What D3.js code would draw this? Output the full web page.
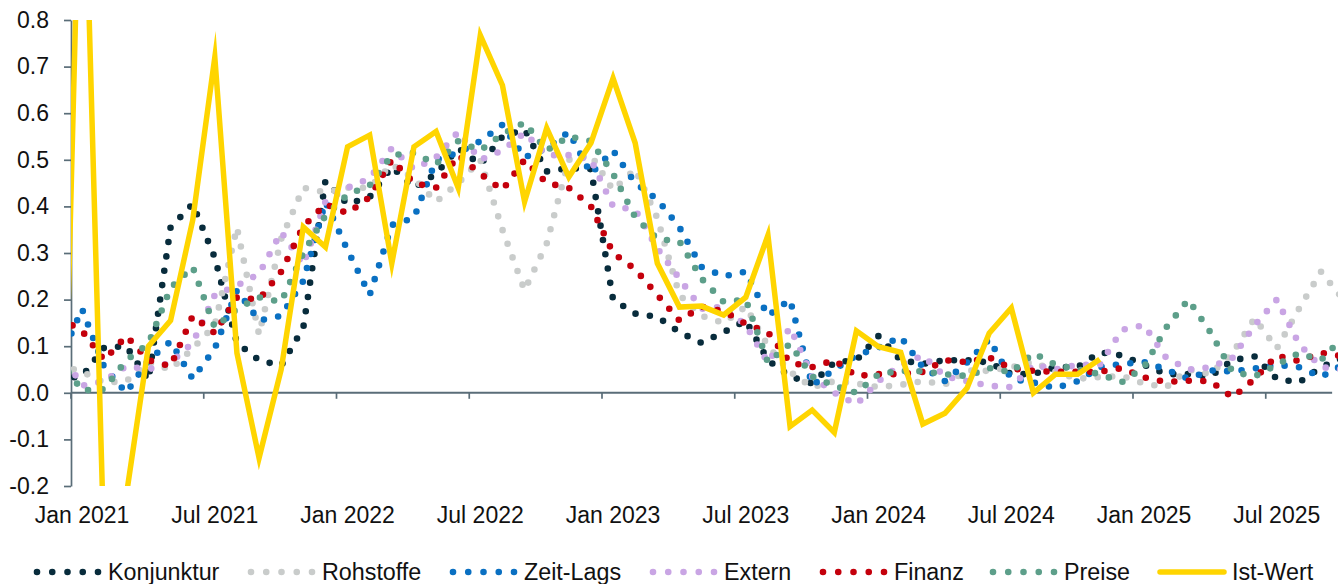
<!DOCTYPE html>
<html>
<head>
<meta charset="utf-8">
<script src="https://cdn.jsdelivr.net/npm/d3@7"></script>
<style>
  body { margin: 0; background: #fff; }
  svg { display: block; font-family: "Liberation Sans", Arial, sans-serif; }
</style>
</head>
<body>
<div id="chart"></div>
<script>
// monthly values, Dec 2020 .. Oct 2025
const months = d3.timeMonth.range(new Date(2020, 11, 1), new Date(2025, 10, 1));

const konjunktur = [0.03,
  0.035, 0.097, 0.10, 0.027, 0.355, 0.405, 0.29, 0.107, 0.07, 0.058, 0.14, 0.455,
  0.405, 0.42, 0.485, 0.44, 0.47, 0.525, 0.49, 0.55, 0.565, 0.475, 0.482, 0.48,
  0.20, 0.17, 0.163, 0.13, 0.107, 0.13, 0.155, 0.07, 0.035, 0.02, 0.065, 0.07,
  0.122, 0.07, 0.062, 0.07, 0.07, 0.065, 0.04, 0.04, 0.055, 0.055, 0.087, 0.08,
  0.06, 0.04, 0.04, 0.035, 0.07, 0.078, 0.03, 0.022, 0.055, 0.075];

const rohstoffe = [0.06,
  0.045, 0.022, 0.025, 0.065, 0.05, 0.095, 0.145, 0.355, 0.125, 0.33, 0.44, 0.43,
  0.44, 0.44, 0.49, 0.46, 0.41, 0.45, 0.50, 0.35, 0.22, 0.32, 0.50, 0.51,
  0.435, 0.48, 0.375, 0.21, 0.165, 0.15, 0.185, 0.10, 0.045, 0.012, 0.025, 0.02,
  0.012, 0.017, 0.025, 0.018, 0.048, 0.047, 0.055, 0.066, 0.045, 0.03, 0.034, 0.036,
  0.02, 0.012, 0.05, 0.04, 0.085, 0.16, 0.095, 0.18, 0.26, 0.20];

const zeitLags = [0.07,
  0.18, 0.055, 0.0, 0.07, 0.11, 0.03, 0.095, 0.22, 0.155, 0.165, 0.24, 0.41,
  0.306, 0.21, 0.36, 0.375, 0.50, 0.515, 0.54, 0.575, 0.505, 0.525, 0.56, 0.47,
  0.52, 0.45, 0.415, 0.355, 0.27, 0.25, 0.26, 0.165, 0.20, 0.016, 0.05, 0.08,
  0.097, 0.12, 0.055, 0.025, 0.065, 0.115, 0.03, 0.022, 0.01, 0.025, 0.055, 0.062,
  0.066, 0.05, 0.03, 0.048, 0.046, 0.052, 0.06, 0.055, 0.034, 0.06];

const extern = [0.09,
  0.015, 0.025, 0.057, 0.05, 0.065, 0.107, 0.21, 0.23, 0.255, 0.345, 0.275, 0.41,
  0.44, 0.46, 0.525, 0.48, 0.505, 0.56, 0.50, 0.52, 0.558, 0.51, 0.51, 0.50,
  0.40, 0.393, 0.31, 0.245, 0.18, 0.185, 0.145, 0.065, 0.14, 0.035, 0.0, -0.025,
  0.025, 0.06, 0.08, 0.035, 0.025, 0.015, 0.012, 0.06, 0.05, 0.06, 0.06, 0.135,
  0.145, 0.075, 0.05, 0.055, 0.075, 0.145, 0.20, 0.105, 0.055, 0.05];

const finanz = [0.16,
  0.133, 0.07, 0.122, 0.07, 0.057, 0.165, 0.128, 0.205, 0.20, 0.26, 0.357, 0.405,
  0.385, 0.42, 0.50, 0.45, 0.44, 0.51, 0.47, 0.435, 0.50, 0.45, 0.44, 0.40,
  0.30, 0.265, 0.21, 0.155, 0.185, 0.175, 0.148, 0.13, 0.065, 0.055, 0.07, 0.036,
  0.04, 0.04, 0.045, 0.07, 0.066, 0.076, 0.052, 0.047, 0.045, 0.045, 0.045, 0.053,
  0.033, 0.023, 0.026, 0.025, -0.01, 0.03, 0.08, 0.068, 0.086, 0.078];

const preise = [0.07,
  0.005, 0.008, 0.07, 0.105, 0.225, 0.27, 0.14, 0.18, 0.205, 0.195, 0.30, 0.38,
  0.425, 0.445, 0.51, 0.515, 0.49, 0.54, 0.52, 0.555, 0.58, 0.52, 0.55, 0.54,
  0.47, 0.377, 0.33, 0.325, 0.245, 0.195, 0.20, 0.065, 0.105, 0.035, 0.015, 0.0,
  0.04, 0.047, 0.046, 0.04, 0.036, 0.053, 0.044, 0.085, 0.06, 0.05, 0.04, 0.023,
  0.055, 0.14, 0.20, 0.13, 0.045, 0.035, 0.06, 0.085, 0.07, 0.12];

// Dec 2020 .. Nov 2024
const istWert = [-0.5,
  1.35, -0.35, -0.22, 0.10, 0.155, 0.37, 0.72, 0.085, -0.14, 0.05, 0.356, 0.313,
  0.528, 0.553, 0.278, 0.528, 0.561, 0.44, 0.767, 0.66, 0.41, 0.568, 0.463, 0.536,
  0.675, 0.536, 0.278, 0.184, 0.186, 0.167, 0.205, 0.338, -0.072, -0.037, -0.085, 0.133,
  0.099, 0.087, -0.067, -0.044, 0.01, 0.128, 0.182, 0.0, 0.04, 0.04, 0.072];

const yTicks = [-0.2, -0.1, 0, 0.1, 0.2, 0.3, 0.4, 0.5, 0.6, 0.7, 0.8];

const series = [
  { name: "Konjunktur", values: konjunktur, color: "#082c3c" },
  { name: "Rohstoffe", values: rohstoffe, color: "#c9cccb" },
  { name: "Zeit-Lags", values: zeitLags, color: "#0a70c2" },
  { name: "Extern", values: extern, color: "#c9a5e4" },
  { name: "Finanz", values: finanz, color: "#c4000c" },
  { name: "Preise", values: preise, color: "#5d9f8a" },
  { name: "Ist-Wert", values: istWert, color: "#ffd500", solid: true }
];

const width = 1338, height = 584;
const plotLeft = 71, plotTop = 20, plotBottom = 486;
const monthW = 22.125;
const axisColor = "#5a6d78";

const svg = d3.select("#chart").append("svg")
  .attr("width", width)
  .attr("height", height);

// one band per month, Jan 2021 starts at the y axis
const x = d3.scaleBand()
  .domain(months)
  .range([plotLeft - monthW, plotLeft - monthW + months.length * monthW]);
const bw = x.bandwidth();

const y = d3.scaleLinear()
  .domain([-0.2, 0.8])
  .range([plotBottom, plotTop]);

svg.append("defs").append("clipPath")
  .attr("id", "plot-clip")
  .append("rect")
  .attr("x", plotLeft).attr("y", plotTop)
  .attr("width", width - plotLeft).attr("height", plotBottom - plotTop);

// axes
const labelMonths = months.filter(m => m.getFullYear() >= 2021 && (m.getMonth() === 0 || m.getMonth() === 6));

svg.append("g")
  .attr("transform", `translate(${plotLeft},0)`)
  .call(d3.axisLeft(y).tickValues(yTicks).tickSize(7).tickSizeOuter(0).tickPadding(15)
    .tickFormat(d => d.toFixed(1)))
  .call(g => g.selectAll("path, line").attr("stroke", axisColor).attr("stroke-width", 1.7))
  .call(g => g.selectAll("text").attr("fill", "#111").style("font-size", "23px"));

const y0 = y(0);
const xEnd = x(months[months.length - 1]);
svg.append("line")
  .attr("x1", plotLeft).attr("x2", xEnd)
  .attr("y1", y0).attr("y2", y0)
  .attr("stroke", axisColor).attr("stroke-width", 2);

svg.append("g").selectAll("line")
  .data(labelMonths)
  .enter().append("line")
  .attr("x1", d => x(d)).attr("x2", d => x(d))
  .attr("y1", y0).attr("y2", y0 + 6)
  .attr("stroke", axisColor).attr("stroke-width", 1.7);

svg.append("g")
  .attr("transform", "translate(0,507)")
  .call(d3.axisBottom(x).tickValues(labelMonths).tickSize(0).tickPadding(0)
    .tickFormat(d3.timeFormat("%b %Y")))
  .call(g => g.select(".domain").remove())
  .call(g => g.selectAll("text").attr("fill", "#111").style("font-size", "23px"));

// lines
const line = d3.line()
  .x((d, i) => x(months[i]) + bw / 2)
  .y(d => y(d));

const plot = svg.append("g").attr("clip-path", "url(#plot-clip)");

series.forEach(s => {
  const p = plot.append("path")
    .datum(s.values)
    .attr("d", line)
    .attr("fill", "none")
    .attr("stroke", s.color);
  if (s.solid) {
    p.attr("stroke-width", 5.5).attr("stroke-linejoin", "miter").attr("stroke-miterlimit", 10);
  } else {
    p.attr("stroke-width", 6.6)
      .attr("stroke-linecap", "round")
      .attr("stroke-dasharray", "0 14.5");
  }
});

// legend
const legendStart = [37, 251, 453, 653, 823, 993, 1160];
const legend = svg.append("g").attr("transform", "translate(0,572)");

series.forEach((s, i) => {
  const x0 = legendStart[i];
  const item = legend.append("g");
  if (s.solid) {
    item.append("line")
      .attr("x1", x0).attr("x2", x0 + 64)
      .attr("stroke", s.color).attr("stroke-width", 5.5)
      .attr("stroke-linecap", "round");
  } else {
    item.append("line")
      .attr("x1", x0).attr("x2", x0 + 61.5)
      .attr("stroke", s.color).attr("stroke-width", 6.6)
      .attr("stroke-linecap", "round")
      .attr("stroke-dasharray", "0 15.25");
  }
  item.append("text")
    .attr("x", x0 + (s.solid ? 72 : 71))
    .attr("y", 8)
    .attr("fill", "#111")
    .style("font-size", "23.3px")
    .text(s.name);
});
</script>
</body>
</html>
